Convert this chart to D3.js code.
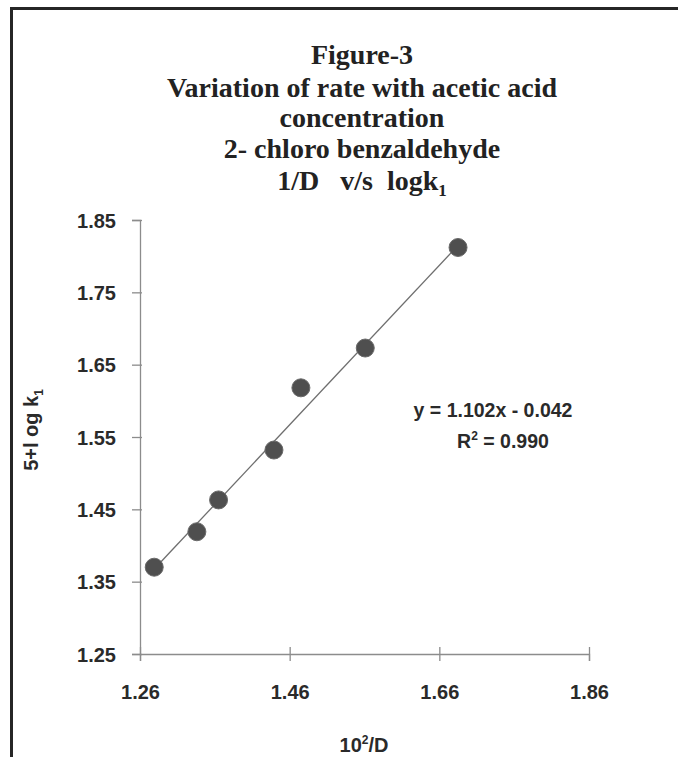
<!DOCTYPE html>
<html>
<head>
<meta charset="utf-8">
<script src="https://cdn.jsdelivr.net/npm/d3@7"></script>
<style>
  html, body { margin: 0; padding: 0; background: #ffffff; }
  svg { display: block; }
</style>
</head>
<body>
<svg id="chart" width="678" height="757"></svg>
<script>
// ---- data ----
const titleLines = ["Figure-3", "Variation of rate with acetic acid", "concentration", "2- chloro benzaldehyde"];
const xValues = [1.279, 1.336, 1.365, 1.439, 1.475, 1.561, 1.685];
const yValues = [1.370, 1.419, 1.463, 1.532, 1.618, 1.673, 1.812];
const xTicks = [1.26, 1.46, 1.66, 1.86];
const yTicks = [1.25, 1.35, 1.45, 1.55, 1.65, 1.75, 1.85];
const trendSlope = 1.102;
const trendIntercept = -0.042;
const equationText = "y = 1.102x - 0.042";
const r2Text = "0.990";

const svg = d3.select("#chart");
const W = 678, H = 757;
const plot = { left: 140, right: 589, top: 220, bottom: 654 };

const x = d3.scaleLinear().domain([1.26, 1.86]).range([plot.left, plot.right]);
const y = d3.scaleLinear().domain([1.25, 1.85]).range([plot.bottom, plot.top]);

// frame (left and top borders)
svg.append("line").attr("x1", 11.5).attr("x2", 11.5).attr("y1", 7).attr("y2", H)
  .attr("stroke", "#262626").attr("stroke-width", 3);
svg.append("line").attr("x1", 10).attr("x2", W).attr("y1", 8.5).attr("y2", 8.5)
  .attr("stroke", "#262626").attr("stroke-width", 3);

// title
const title = svg.append("text")
  .attr("text-anchor", "middle")
  .attr("font-family", "'Liberation Serif', 'Times New Roman', serif")
  .attr("font-weight", "bold")
  .attr("font-size", 28)
  .attr("fill", "#222");
const titleBase = [64, 97, 127, 158];
titleLines.forEach((t, i) => {
  title.append("tspan").attr("x", 362).attr("y", titleBase[i]).text(t);
});
const lastLine = title.append("tspan").attr("x", 362).attr("y", 190);
lastLine.append("tspan").text("1/D\u00a0\u00a0 v/s\u00a0 logk");
lastLine.append("tspan").attr("font-size", 17).attr("dy", 6).text("1");

const labelFont = "'Liberation Sans', Arial, sans-serif";

// y axis
const yAxis = d3.axisLeft(y).tickValues(yTicks).tickFormat(d3.format(".2f")).tickSize(8).tickPadding(16);
const gy = svg.append("g").attr("transform", `translate(${plot.left},0)`).call(yAxis);
gy.select(".domain").attr("stroke", "#8c8c8c").attr("stroke-width", 1.3);
gy.selectAll(".tick line").attr("stroke", "#8c8c8c").attr("stroke-width", 1.3).attr("x2", -8).attr("x1", 2);
gy.selectAll(".tick text").attr("font-family", labelFont).attr("font-weight", "bold")
  .attr("font-size", 20).attr("fill", "#2a2a2a").attr("dy", "0.36em");

// x axis
const xAxis = d3.axisBottom(x).tickValues(xTicks).tickFormat(d3.format(".2f")).tickSize(7).tickPadding(24);
const gx = svg.append("g").attr("transform", `translate(0,${plot.bottom})`).call(xAxis);
gx.select(".domain").attr("stroke", "#8c8c8c").attr("stroke-width", 1.3);
gx.selectAll(".tick line").attr("stroke", "#8c8c8c").attr("stroke-width", 1.3).attr("y1", -7).attr("y2", 7);
gx.selectAll(".tick text").attr("font-family", labelFont).attr("font-weight", "bold")
  .attr("font-size", 20).attr("fill", "#2a2a2a");

// axis titles
const xt = svg.append("text").attr("x", 364).attr("y", 752).attr("text-anchor", "middle")
  .attr("font-family", labelFont).attr("font-weight", "bold").attr("font-size", 20).attr("fill", "#2a2a2a");
xt.append("tspan").text("10");
xt.append("tspan").attr("font-size", 12).attr("dy", -8).text("2");
xt.append("tspan").attr("dy", 8).text("/D");

const yt = svg.append("text").attr("transform", "translate(38,430) rotate(-90)").attr("text-anchor", "middle")
  .attr("font-family", labelFont).attr("font-weight", "bold").attr("font-size", 20).attr("fill", "#2a2a2a");
yt.append("tspan").text("5+l og k");
yt.append("tspan").attr("font-size", 12).attr("dy", 5).text("1");

// trendline
const xMin = d3.min(xValues), xMax = d3.max(xValues);
svg.append("line")
  .attr("x1", x(xMin)).attr("y1", y(trendSlope * xMin + trendIntercept))
  .attr("x2", x(xMax)).attr("y2", y(trendSlope * xMax + trendIntercept))
  .attr("stroke", "#6e6e6e").attr("stroke-width", 1.3);

// points
svg.append("g").selectAll("circle")
  .data(xValues.map((v, i) => [v, yValues[i]]))
  .join("circle")
  .attr("cx", d => x(d[0])).attr("cy", d => y(d[1])).attr("r", 9)
  .attr("fill", "#4f4f4f").attr("stroke", "#6a6a6a").attr("stroke-width", 1);

// equation
svg.append("text").attr("x", 493).attr("y", 417).attr("text-anchor", "middle")
  .attr("font-family", labelFont).attr("font-weight", "bold").attr("font-size", 19.5).attr("fill", "#2a2a2a")
  .text(equationText);
const r2 = svg.append("text").attr("x", 503).attr("y", 448).attr("text-anchor", "middle")
  .attr("font-family", labelFont).attr("font-weight", "bold").attr("font-size", 19.5).attr("fill", "#2a2a2a");
r2.append("tspan").text("R");
r2.append("tspan").attr("font-size", 12).attr("dy", -8).text("2");
r2.append("tspan").attr("dy", 8).text(" = " + r2Text);
</script>
</body>
</html>
